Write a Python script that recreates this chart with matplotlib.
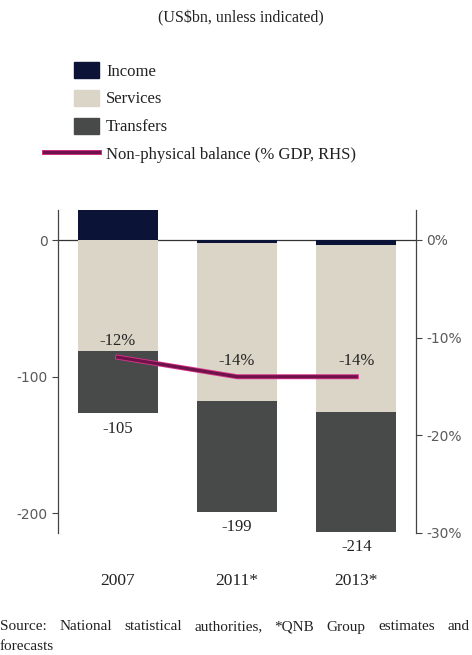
import matplotlib
matplotlib.use('Agg')
import matplotlib.pyplot as plt
import matplotlib.patheffects as pe
from matplotlib.patches import Rectangle, Patch
from matplotlib.lines import Line2D
from matplotlib.legend_handler import HandlerPatch
import numpy as np

years = ['2007', '2011*', '2013*']
income = [22, -2, -4]
services = [-81, -116, -122]
transfers = [-46, -81, -88]
balance_pct = [-12, -14, -14]

c_income = '#0b1437'
c_services = '#dad5c6'
c_transfers = '#474a48'
c_line = '#70124a'
c_glow = '#d8348a'
c_tick = '#5a5a5a'
c_text = '#222222'

plt.rcParams['font.family'] = ['Liberation Serif', 'DejaVu Serif']
plt.rcParams['axes.unicode_minus'] = False

W, H = 472, 655
fig = plt.figure(figsize=(W / 100, H / 100), dpi=100)
ax = fig.add_axes([58 / W, 1 - 533 / H, (416 - 58) / W, (533 - 210) / H])

x = np.arange(len(years))
inc = np.array(income)
srv = np.array(services)
trf = np.array(transfers)
base = np.minimum(inc, 0)
bw = 0.67

ax.axhline(0, color='#333333', lw=0.9, zorder=0)
ax.bar(x, inc, width=bw, color=c_income, zorder=2)
ax.bar(x, srv, bottom=base, width=bw, color=c_services, zorder=2)
ax.bar(x, trf, bottom=base + srv, width=bw, color=c_transfers, zorder=2)

# net total written under each stack
totals = inc + srv + trf
for xi, low, tot in zip(x, base + srv + trf, totals):
    ax.annotate(f'{tot:.0f}', (xi, low), xytext=(0, -11), textcoords='offset points',
                ha='center', va='center', fontsize=12, color=c_text)

ax.set_xlim(-0.5, 2.5)
ax.set_ylim(-214.6, 22)
ax.set_yticks([0, -100, -200])
ax.set_yticklabels(['0', '-100', '-200'])
ax.set_xticks(x)
ax.set_xticklabels(years)
ax.tick_params(axis='x', length=0, pad=29, labelsize=12.5, labelcolor=c_text)
ax.tick_params(axis='y', length=4, width=0.8, color='#444444', labelcolor=c_tick,
               labelsize=10, labelfontfamily='DejaVu Sans')
for s in ['top', 'bottom', 'right']:
    ax.spines[s].set_visible(False)
ax.spines['left'].set_color('#444444')
ax.spines['left'].set_linewidth(0.9)

# balance as % of GDP on the right-hand axis
ax2 = ax.twinx()
glow = [pe.Stroke(linewidth=3.6, foreground=c_glow), pe.Normal()]
ax2.plot(x, balance_pct, color=c_line, lw=2.3, path_effects=glow, zorder=3)
for xi, v in zip(x, balance_pct):
    ax2.annotate(f'{v}%', (xi, v), xytext=(0, 11.5), textcoords='offset points',
                 ha='center', va='center', fontsize=12, color=c_text)
ax2.set_ylim(-30, 3.07)
ax2.set_yticks([0, -10, -20, -30])
ax2.set_yticklabels(['0%', '-10%', '-20%', '-30%'])
ax2.tick_params(axis='y', length=4, width=0.8, color='#444444', labelcolor=c_tick,
                labelsize=10, labelfontfamily='DejaVu Sans')
for s in ['top', 'bottom', 'left']:
    ax2.spines[s].set_visible(False)
ax2.spines['right'].set_color('#444444')
ax2.spines['right'].set_linewidth(0.9)

fig.text(241 / W, 1 - 18 / H, '(US$bn, unless indicated)', ha='center', va='center',
         fontsize=11.5, color=c_text)


def small_box(legend, orig_handle, xdescent, ydescent, width, height, fontsize):
    side = 18
    return Rectangle((-xdescent + width - side, -ydescent), side, height)


handles = [Patch(color=c_income), Patch(color=c_services), Patch(color=c_transfers),
           Line2D([], [], color=c_line, lw=2.3, path_effects=glow)]
labels = ['Income', 'Services', 'Transfers', 'Non-physical balance (% GDP, RHS)']
fig.legend(handles, labels, loc='upper left', bbox_to_anchor=(44 / W, 1 - 62 / H),
           frameon=False, borderpad=0, borderaxespad=0, fontsize=12, handlelength=3.3,
           handleheight=1.08, handletextpad=0.42, labelspacing=0.62, labelcolor=c_text,
           handler_map={Patch: HandlerPatch(patch_func=small_box)})

# justified source note across the full width
words = 'Source: National statistical authorities, *QNB Group estimates and'.split()
renderer = fig.canvas.get_renderer()
texts = [fig.text(0, 1 - 627 / H, w, fontsize=11, va='center', color=c_text) for w in words]
widths = [t.get_window_extent(renderer).width for t in texts]
gap = (469 - sum(widths)) / (len(words) - 1)
pos = 0
for t, w in zip(texts, widths):
    t.set_x(pos / W)
    pos += w + gap
fig.text(0, 1 - 647 / H, 'forecasts', fontsize=11, va='center', color=c_text)

fig.savefig('out.png', dpi=100)
